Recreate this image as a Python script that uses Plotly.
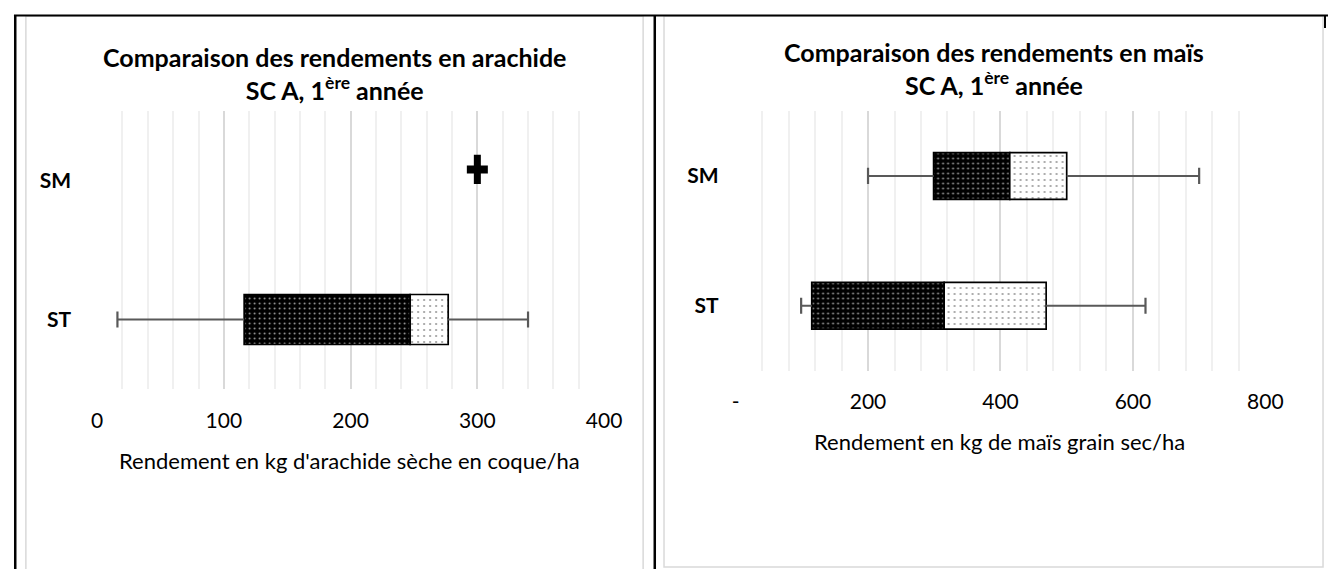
import plotly.graph_objects as go

# ---------------- DATA ----------------
categories = ["ST", "SM"]

# Arachide (left chart)  kg/ha
ara_cat = ["ST"]
ara_min = [16]
ara_q1 = [116]
ara_med = [247]
ara_q3 = [277]
ara_max = [340]
ara_out_cat = ["SM"]
ara_out_val = [300]

# Maïs (right chart)  kg/ha
mai_cat = ["SM", "ST"]
mai_min = [200, 99]
mai_q1 = [299, 115]
mai_med = [414, 315]
mai_q3 = [500, 469]
mai_max = [700, 619]

ara_ticks = [0, 100, 200, 300, 400]
ara_ticktext = ["0", "100", "200", "300", "400"]
mai_ticks = [0, 200, 400, 600, 800]
mai_ticktext = ["-", "200", "400", "600", "800"]

title_left = "<b>Comparaison des rendements en arachide<br>SC A, 1<sup>ère</sup> année</b>"
title_right = "<b>Comparaison des rendements en maïs<br>SC A, 1<sup>ère</sup> année</b>"
xtitle_left = "Rendement en kg d'arachide sèche en coque/ha"
xtitle_right = "Rendement en kg de maïs grain sec/ha"

# ---------------- STYLE ----------------
REF_W, H = 1328, 569     # reference image size (layout coordinates below)
FIG_W = 1344             # page width that is captured into the 1328 px picture
FONT = "Lato"
BOX_W = 0.36
OUT_OFFSET = 0.08
WHISK = "#595959"
pos = {c: i for i, c in enumerate(categories)}


def px(x):
    return x / REF_W


def py(y):
    return 1 - y / H


fig = go.Figure()


def add_boxes(cats, mn, q1, med, q3, mx, xa, ya):
    y = [pos[c] for c in cats]
    fig.add_trace(go.Bar(
        orientation="h", y=y, base=q1, x=[m - a for m, a in zip(med, q1)],
        width=BOX_W, xaxis=xa, yaxis=ya, showlegend=False,
        marker=dict(color="black", line=dict(color="black", width=1.7),
                    pattern=dict(shape=".", bgcolor="black", fgcolor="#9a9a9a",
                                 size=5, solidity=0.12, fillmode="replace")),
    ))
    fig.add_trace(go.Bar(
        orientation="h", y=y, base=med, x=[b - m for b, m in zip(q3, med)],
        width=BOX_W, xaxis=xa, yaxis=ya, showlegend=False,
        marker=dict(color="white", line=dict(color="black", width=1.7),
                    pattern=dict(shape=".", bgcolor="white", fgcolor="#9a9a9a",
                                 size=6, solidity=0.1, fillmode="replace")),
    ))
    lx, ly = [], []
    for i in range(len(cats)):
        lx += [mn[i], q1[i], None, q3[i], mx[i], None]
        ly += [y[i], y[i], None, y[i], y[i], None]
    fig.add_trace(go.Scatter(x=lx, y=ly, mode="lines", xaxis=xa, yaxis=ya,
                             line=dict(color=WHISK, width=2), showlegend=False,
                             hoverinfo="skip"))
    fig.add_trace(go.Scatter(x=mn + mx, y=y + y, mode="markers", xaxis=xa, yaxis=ya,
                             marker=dict(symbol="line-ns", size=11.5,
                                         line=dict(color=WHISK, width=2.2)),
                             showlegend=False, hoverinfo="skip"))


add_boxes(ara_cat, ara_min, ara_q1, ara_med, ara_q3, ara_max, "x", "y")
# outlier "+" (vertical and horizontal strokes)
out_y = [pos[c] + OUT_OFFSET for c in ara_out_cat]
fig.add_trace(go.Scatter(x=ara_out_val, y=out_y, mode="markers", showlegend=False,
                         marker=dict(symbol="line-ns", size=21,
                                     line=dict(color="black", width=7))))
fig.add_trace(go.Scatter(x=ara_out_val, y=out_y, mode="markers", showlegend=False,
                         marker=dict(symbol="line-ew", size=15,
                                     line=dict(color="black", width=8))))
add_boxes(mai_cat, mai_min, mai_q1, mai_med, mai_q3, mai_max, "x2", "y2")

tickfont = dict(family=FONT, size=21, color="black")
common_x = dict(showline=False, zeroline=False, showgrid=True, gridcolor="#d9d9d9",
                gridwidth=1.5, ticks="", tickfont=tickfont,
                fixedrange=True)
common_y = dict(showline=False, zeroline=False, showgrid=False, range=[-0.5, 1.5],
                tickvals=[0, 1], ticktext=categories, ticks="",
                tickfont=dict(family=FONT, size=21, color="black", weight="bold"),
                fixedrange=True)

fig.update_layout(
    width=FIG_W, height=H, margin=dict(l=0, r=0, t=0, b=0),
    paper_bgcolor="white", plot_bgcolor="white", barmode="overlay",
    font=dict(family=FONT, color="black"),
    xaxis=dict(domain=[px(91.7), px(601.7)], anchor="y", range=[0, 400],
               tickvals=ara_ticks, ticktext=ara_ticktext, ticklabelstandoff=17,
               minor=dict(dtick=20, tick0=0, showgrid=True, gridcolor="#f0f0f0", gridwidth=1.5),
               **common_x),
    yaxis=dict(domain=[py(389), py(111)], anchor="x", ticklabelstandoff=25, **common_y),
    xaxis2=dict(domain=[px(734), px(1267)], anchor="y2", range=[0, 800],
                tickvals=mai_ticks, ticktext=mai_ticktext, ticklabelstandoff=16,
                minor=dict(dtick=40, tick0=0, showgrid=True, gridcolor="#f0f0f0", gridwidth=1.5),
                **common_x),
    yaxis2=dict(domain=[py(370.7), py(111)], anchor="x2", ticklabelstandoff=16, **common_y),
)

# chart titles and axis titles
fig.add_annotation(x=px(330), y=py(74), xref="paper", yref="paper", text=title_left,
                   showarrow=False, font=dict(family=FONT, size=25, color="black"),
                   xanchor="center", yanchor="middle")
fig.add_annotation(x=px(994), y=py(68.5), xref="paper", yref="paper", text=title_right,
                   showarrow=False, font=dict(family=FONT, size=25, color="black"),
                   xanchor="center", yanchor="middle")
fig.add_annotation(x=px(346), y=py(460), xref="paper", yref="paper", text=xtitle_left,
                   showarrow=False, font=dict(family=FONT, size=22, color="black"),
                   xanchor="center", yanchor="middle")
fig.add_annotation(x=px(1000), y=py(441), xref="paper", yref="paper", text=xtitle_right,
                   showarrow=False, font=dict(family=FONT, size=22, color="black"),
                   xanchor="center", yanchor="middle")

# frames: chart borders (grey) and table lines (black)
shapes = [
    dict(type="rect", x0=px(20), x1=px(641), y0=py(575), y1=py(16),
         line=dict(color="#d9d9d9", width=1.5)),
    dict(type="rect", x0=px(662), x1=px(1325), y0=py(567), y1=py(16),
         line=dict(color="#d9d9d9", width=1.5)),
    dict(type="line", x0=px(8), x1=px(1340), y0=py(15.5), y1=py(15.5),
         line=dict(color="black", width=2)),
    dict(type="line", x0=px(9.3), x1=px(9.3), y0=py(15), y1=py(575),
         line=dict(color="black", width=2.5)),
    dict(type="line", x0=px(652.7), x1=px(652.7), y0=py(15), y1=py(575),
         line=dict(color="black", width=2.5)),
    dict(type="line", x0=px(1327), x1=px(1327), y0=py(15), y1=py(28),
         line=dict(color="black", width=2)),
]
for s in shapes:
    s.update(xref="paper", yref="paper", layer="above")
fig.update_layout(shapes=shapes)

fig.write_html(
    "out.html",
    config={"displayModeBar": False},
    post_script="document.body.style.margin='0';document.body.style.overflow='hidden';",
)
